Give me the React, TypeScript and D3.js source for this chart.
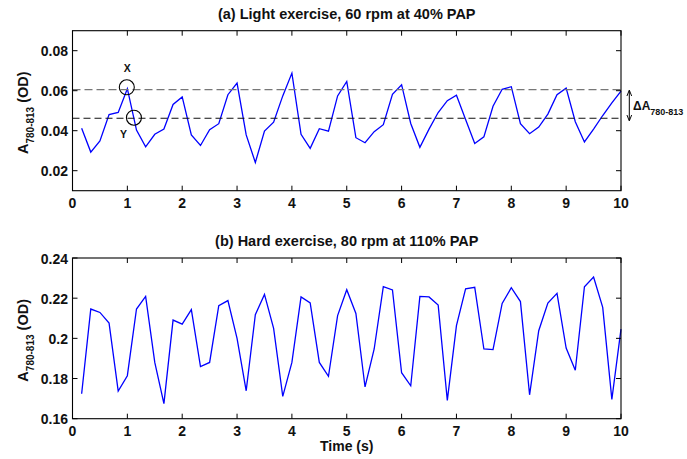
import React from "react";
import * as d3 from "d3";

const lightValues = [
  0.0412, 0.0293, 0.0349, 0.0481, 0.0491, 0.0610, 0.0403, 0.0319, 0.0382, 0.0408,
  0.0531, 0.0569, 0.0379, 0.0326, 0.0405, 0.0435, 0.0580, 0.0638, 0.0379, 0.0241,
  0.0398, 0.0443, 0.0574, 0.0688, 0.0382, 0.0312, 0.0410, 0.0398, 0.0574, 0.0646,
  0.0365, 0.0340, 0.0395, 0.0430, 0.0582, 0.0630, 0.0436, 0.0317, 0.0408, 0.0491,
  0.0550, 0.0577, 0.0456, 0.0336, 0.0369, 0.0522, 0.0607, 0.0620, 0.0435, 0.0385,
  0.0418, 0.0483, 0.0580, 0.0613, 0.0445, 0.0344, 0.0408, 0.0476, 0.0539, 0.0598,
];

const hardValues = [
  0.1724, 0.2146, 0.2129, 0.2076, 0.1738, 0.1814, 0.2146, 0.2209, 0.1880, 0.1675,
  0.2091, 0.2071, 0.2143, 0.1859, 0.1880, 0.2163, 0.2188, 0.2000, 0.1739, 0.2118,
  0.2219, 0.2050, 0.1711, 0.1880, 0.2206, 0.2176, 0.1880, 0.1811, 0.2113, 0.2242,
  0.2124, 0.1758, 0.1947, 0.2257, 0.2241, 0.1829, 0.1764, 0.2209, 0.2206, 0.2166,
  0.1691, 0.2063, 0.2246, 0.2254, 0.1947, 0.1944, 0.2174, 0.2252, 0.2183, 0.1719,
  0.2038, 0.2176, 0.2224, 0.1952, 0.1841, 0.2257, 0.2305, 0.2154, 0.1696, 0.2046,
];

const sampleStep = 1 / 6;
const xTicks = [0, 1, 2, 3, 4, 5, 6, 7, 8, 9, 10];
const lightYTicks = [0.02, 0.04, 0.06, 0.08];
const hardYTicks = [0.16, 0.18, 0.2, 0.22, 0.24];
const lightDomain = [0.01, 0.09];
const hardDomain = [0.16, 0.24];
const upperLevel = 0.0605;
const lowerLevel = 0.0462;
const markX = { t: 0.99, v: 0.0617 };
const markY = { t: 1.12, v: 0.0465 };

const FONT = "'Liberation Sans', Arial, Helvetica, sans-serif";
const X0 = 72.5;
const X1 = 621;

function Panel({
  values,
  domain,
  yTicks,
  top,
  bottom,
  title,
  children,
}: any) {
  const x = d3.scaleLinear().domain([0, 10]).range([X0, X1]);
  const y = d3.scaleLinear().domain(domain).range([bottom, top]);
  const line = d3
    .line<number>()
    .x((_, i) => x((i + 1) * sampleStep))
    .y((d) => y(d));
  const tl = 5;
  const fmt = (v: number) => String(+v.toFixed(2));
  const midY = (top + bottom) / 2;
  return (
    <g>
      <text
        x={(X0 + X1) / 2}
        y={top - 12}
        textAnchor="middle"
        fontFamily={FONT}
        fontWeight="bold"
        fontSize={14.5}
        fill="#111"
      >
        {title}
      </text>
      <path d={line(values) || ""} fill="none" stroke="#0000ff" strokeWidth={1.3} />
      {children && children(x, y)}
      <rect x={X0} y={top} width={X1 - X0} height={bottom - top} fill="none" stroke="#000" strokeWidth={1.1} />
      {xTicks.map((t) => (
        <g key={"x" + t}>
          <line x1={x(t)} x2={x(t)} y1={bottom} y2={bottom - tl} stroke="#000" />
          <line x1={x(t)} x2={x(t)} y1={top} y2={top + tl} stroke="#000" />
          <text
            x={x(t)}
            y={bottom + 17}
            textAnchor="middle"
            fontFamily={FONT}
            fontWeight="bold"
            fontSize={14}
            fill="#111"
          >
            {t}
          </text>
        </g>
      ))}
      {yTicks.map((v: number) => (
        <g key={"y" + v}>
          <line x1={X0} x2={X0 + tl} y1={y(v)} y2={y(v)} stroke="#000" />
          <line x1={X1} x2={X1 - tl} y1={y(v)} y2={y(v)} stroke="#000" />
          <text
            x={68}
            y={y(v) + 5.5}
            textAnchor="end"
            fontFamily={FONT}
            fontWeight="bold"
            fontSize={14}
            fill="#111"
          >
            {fmt(v)}
          </text>
        </g>
      ))}
      <text
        transform={`translate(27.5, ${midY + 2}) rotate(-90)`}
        textAnchor="middle"
        fontFamily={FONT}
        fontWeight="bold"
        fontSize={14.5}
        fill="#111"
      >
        A
        <tspan fontSize={10} dy={6}>
          780-813
        </tspan>
        <tspan dy={-6}> (OD)</tspan>
      </text>
    </g>
  );
}

export default function App() {
  return (
    <svg width={687} height={459} style={{ position: "absolute", left: 0, top: 0, background: "#fff" }}>
      <rect width={687} height={459} fill="#fff" />
      <Panel
        values={lightValues}
        domain={lightDomain}
        yTicks={lightYTicks}
        top={30.7}
        bottom={190.7}
        title="(a) Light exercise, 60 rpm at 40% PAP"
      >
        {(x: any, y: any) => (
          <g>
            <line x1={X0} x2={X1} y1={y(upperLevel)} y2={y(upperLevel)} stroke="#777" strokeWidth={1.3} strokeDasharray="8,4" />
            <line x1={X0} x2={X1} y1={y(lowerLevel)} y2={y(lowerLevel)} stroke="#111" strokeWidth={1.1} strokeDasharray="7,4" />
            <circle cx={x(markX.t)} cy={y(markX.v)} r={7.5} fill="none" stroke="#000" strokeWidth={1.1} />
            <circle cx={x(markY.t)} cy={y(markY.v)} r={7.5} fill="none" stroke="#000" strokeWidth={1.1} />
            <text x={x(markX.t) + 0.5} y={y(markX.v) - 15} textAnchor="middle" fontFamily={FONT} fontWeight="bold" fontSize={10.5} fill="#111">X</text>
            <text x={x(markY.t) - 10.5} y={y(markY.v) + 20.5} textAnchor="middle" fontFamily={FONT} fontWeight="bold" fontSize={10.5} fill="#111">Y</text>
            <defs>
              <marker id="ah" viewBox="0 0 10 10" refX="9" refY="5" markerWidth="6" markerHeight="6" orient="auto-start-reverse">
                <path d="M0,1 L10,5 L0,9" fill="none" stroke="#000" strokeWidth={1.6} />
              </marker>
            </defs>
            <line
              x1={629.3}
              x2={629.3}
              y1={y(upperLevel) + 1}
              y2={y(lowerLevel) + 2}
              stroke="#000"
              strokeWidth={1}
              markerStart="url(#ah)"
              markerEnd="url(#ah)"
            />
            <text x={633} y={110} fontFamily={FONT} fontWeight="bold" fontSize={12} fill="#111">
              ΔA
              <tspan fontSize={9} dy={4.5}>780-813</tspan>
            </text>
          </g>
        )}
      </Panel>
      <Panel
        values={hardValues}
        domain={hardDomain}
        yTicks={hardYTicks}
        top={258}
        bottom={418.7}
        title="(b) Hard exercise, 80 rpm at 110% PAP"
      />
      <text x={(X0 + X1) / 2} y={451} textAnchor="middle" fontFamily={FONT} fontWeight="bold" fontSize={14} fill="#111">
        Time (s)
      </text>
    </svg>
  );
}
